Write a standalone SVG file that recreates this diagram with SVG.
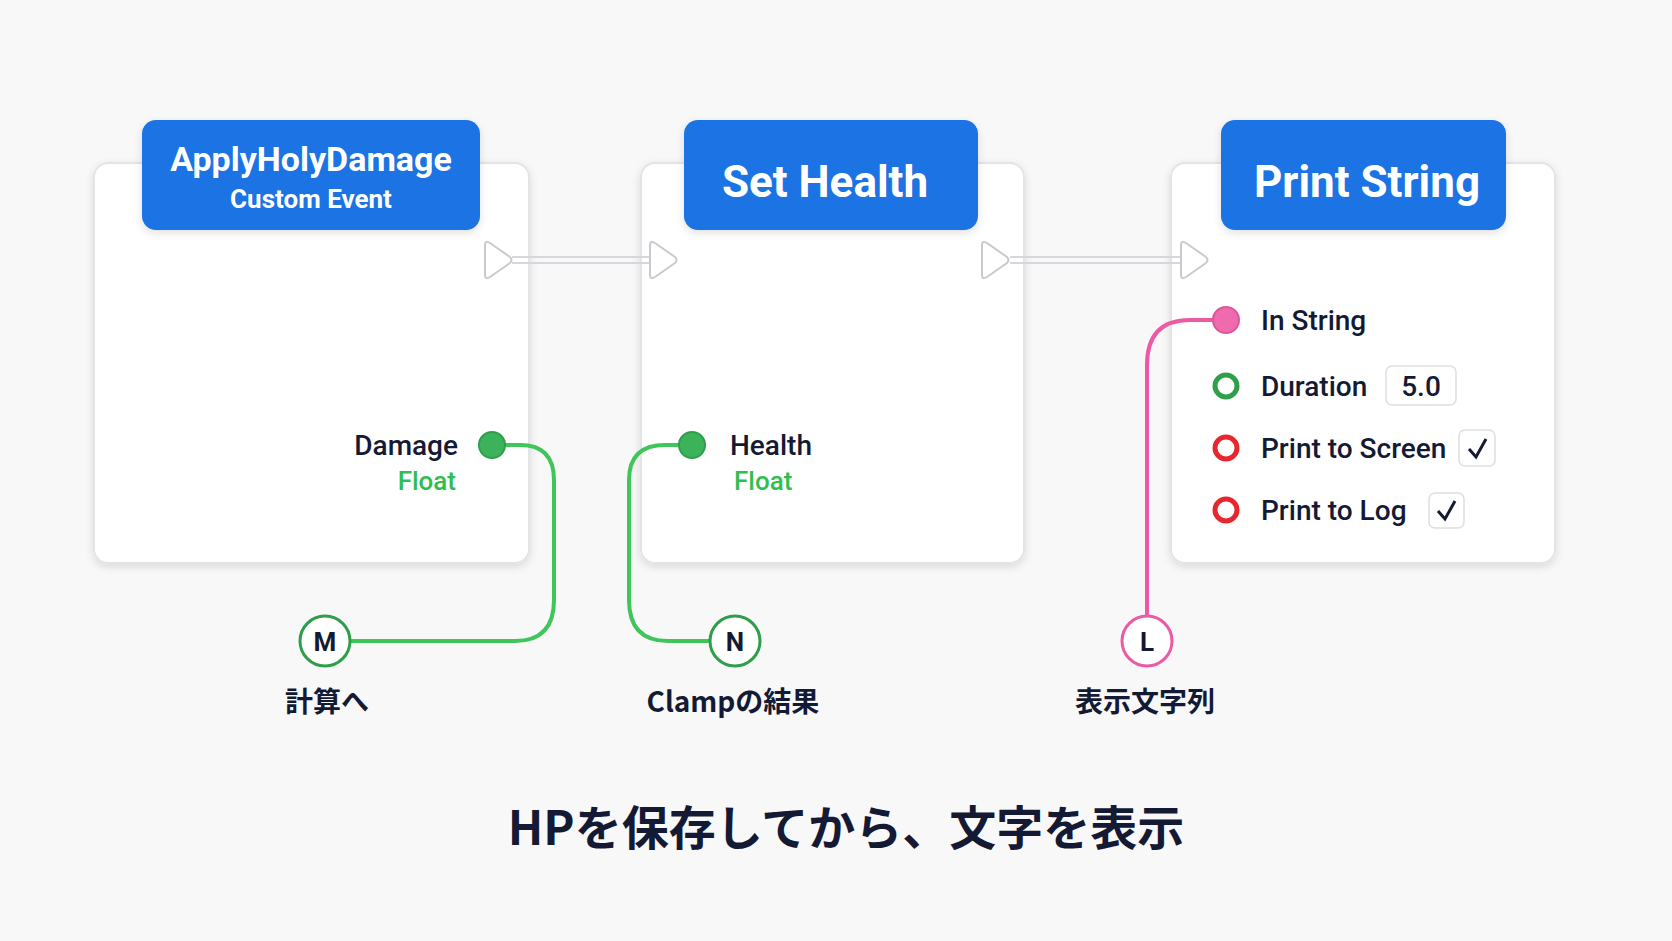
<svg xmlns="http://www.w3.org/2000/svg" width="1672" height="941" viewBox="0 0 1672 941">
<defs>
<filter id="sh" x="-10%" y="-10%" width="120%" height="130%"><feDropShadow dx="0" dy="3" stdDeviation="4" flood-color="#000" flood-opacity="0.12"/></filter>
<style>
.card{fill:#fff;stroke:#e2e4e8;stroke-width:2}
.hdr{fill:#1a73e3}
.ht{font-family:Roboto,"Noto Sans",sans-serif;font-weight:700;fill:#fff;text-anchor:middle}
.t{font-family:Roboto,"Noto Sans","Noto Sans CJK JP",sans-serif;font-weight:500;fill:#141a33;font-size:28px}
.fl{font-family:Roboto,"Noto Sans",sans-serif;font-weight:500;fill:#2fbf4f;font-size:26px}
.exec{fill:#fff;stroke:#c8cacd;stroke-width:2;stroke-linejoin:round}
.box{fill:#fff;stroke:#dcdee2;stroke-width:1.5}
.lab{font-family:"Noto Sans CJK JP",sans-serif;font-weight:700;fill:#141a33;font-size:28px;text-anchor:middle}
</style>
</defs>
<rect width="1672" height="941" fill="#f8f8f9"/>
<g id="node-apply">
<rect class="card" x="94" y="163" width="435" height="400" rx="14" filter="url(#sh)"/>
<rect class="hdr" x="142" y="120" width="338" height="110" rx="14" filter="url(#sh)"/>
<text class="ht" x="311" y="171" font-size="34">ApplyHolyDamage</text>
<text class="ht" x="311" y="208" font-size="26">Custom Event</text>
<text class="t" x="458" y="455" text-anchor="end">Damage</text>
<text class="fl" x="456" y="490" text-anchor="end">Float</text>
</g>
<g id="node-sethealth">
<rect class="card" x="641" y="163" width="383" height="400" rx="14" filter="url(#sh)"/>
<rect class="hdr" x="684" y="120" width="294" height="110" rx="14" filter="url(#sh)"/>
<text class="ht" x="825" y="197" font-size="44">Set Health</text>
<text class="t" x="730" y="455">Health</text>
<text class="fl" x="734" y="490">Float</text>
</g>
<g id="node-printstring">
<rect class="card" x="1171" y="163" width="384" height="400" rx="14" filter="url(#sh)"/>
<rect class="hdr" x="1221" y="120" width="285" height="110" rx="14" filter="url(#sh)"/>
<text class="ht" x="1367" y="197" font-size="44">Print String</text>
<text class="t" x="1261" y="330">In String</text>
<circle cx="1226" cy="386" r="11" fill="none" stroke="#2fa04a" stroke-width="5"/>
<text class="t" x="1261" y="396">Duration</text>
<rect class="box" x="1386" y="366" width="70" height="39" rx="6"/>
<text class="t" x="1421" y="396" text-anchor="middle">5.0</text>
<circle cx="1226" cy="448" r="11" fill="none" stroke="#e8262e" stroke-width="5"/>
<text class="t" x="1261" y="458">Print to Screen</text>
<rect class="box" x="1459" y="430" width="36" height="36" rx="6"/>
<path d="M1469 449L1476 457L1486 439" fill="none" stroke="#141a33" stroke-width="3"/>
<circle cx="1226" cy="510" r="11" fill="none" stroke="#e8262e" stroke-width="5"/>
<text class="t" x="1261" y="520">Print to Log</text>
<rect class="box" x="1429" y="493" width="35" height="35" rx="6"/>
<path d="M1438 511L1445 519L1455 501" fill="none" stroke="#141a33" stroke-width="3"/>
</g>
<g id="connectors" fill="none">
<path d="M512 257H650M512 263H650" stroke="#d5d7da" stroke-width="2"/>
<path d="M1010 257H1181M1010 263H1181" stroke="#d5d7da" stroke-width="2"/>
<path d="M505 445H520Q554 445 554 480V600Q554 641 515 641H350" stroke="#3fc55a" stroke-width="4"/>
<path d="M680 445H665Q629 445 629 480V600Q629 641 668 641H710" stroke="#3fc55a" stroke-width="4"/>
<path d="M1213 320H1190Q1147 320 1147 365V616" stroke="#ec5aa5" stroke-width="4"/>
</g>
<g id="pins">
<path class="exec" d="M485 245V275Q485 280 490 277L510 263Q513 260 510 257L490 243Q485 240 485 245Z"/>
<path class="exec" d="M650 245V275Q650 280 655 277L675 263Q678 260 675 257L655 243Q650 240 650 245Z"/>
<path class="exec" d="M982 245V275Q982 280 987 277L1007 263Q1010 260 1007 257L987 243Q982 240 982 245Z"/>
<path class="exec" d="M1181 245V275Q1181 280 1186 277L1206 263Q1209 260 1206 257L1186 243Q1181 240 1181 245Z"/>
<circle cx="492" cy="445" r="13" fill="#3cb35a" stroke="#2f9e4b" stroke-width="2"/>
<circle cx="692" cy="445" r="13" fill="#3cb35a" stroke="#2f9e4b" stroke-width="2"/>
<circle cx="1226" cy="320" r="13" fill="#f06aae" stroke="#e0559a" stroke-width="2"/>
</g>
<g id="reroute-M">
<circle cx="325" cy="641" r="25" fill="#fff" stroke="#2f9e4b" stroke-width="3"/>
<text x="325" y="651" font-family="Roboto,sans-serif" font-weight="700" font-size="26" fill="#141a33" text-anchor="middle">M</text>
<text class="lab" x="327" y="712">計算へ</text>
</g>
<g id="reroute-N">
<circle cx="735" cy="641" r="25" fill="#fff" stroke="#2f9e4b" stroke-width="3"/>
<text x="735" y="651" font-family="Roboto,sans-serif" font-weight="700" font-size="26" fill="#141a33" text-anchor="middle">N</text>
<text class="lab" x="733" y="712">Clampの結果</text>
</g>
<g id="reroute-L">
<circle cx="1147" cy="641" r="25" fill="#fff" stroke="#ec5aa5" stroke-width="3"/>
<text x="1147" y="651" font-family="Roboto,sans-serif" font-weight="700" font-size="26" fill="#141a33" text-anchor="middle">L</text>
<text class="lab" x="1145" y="712">表示文字列</text>
</g>
<text x="846" y="845" font-family="'Noto Sans CJK JP',sans-serif" font-weight="700" font-size="47" fill="#141a33" text-anchor="middle">HPを保存してから、文字を表示</text>
</svg>
